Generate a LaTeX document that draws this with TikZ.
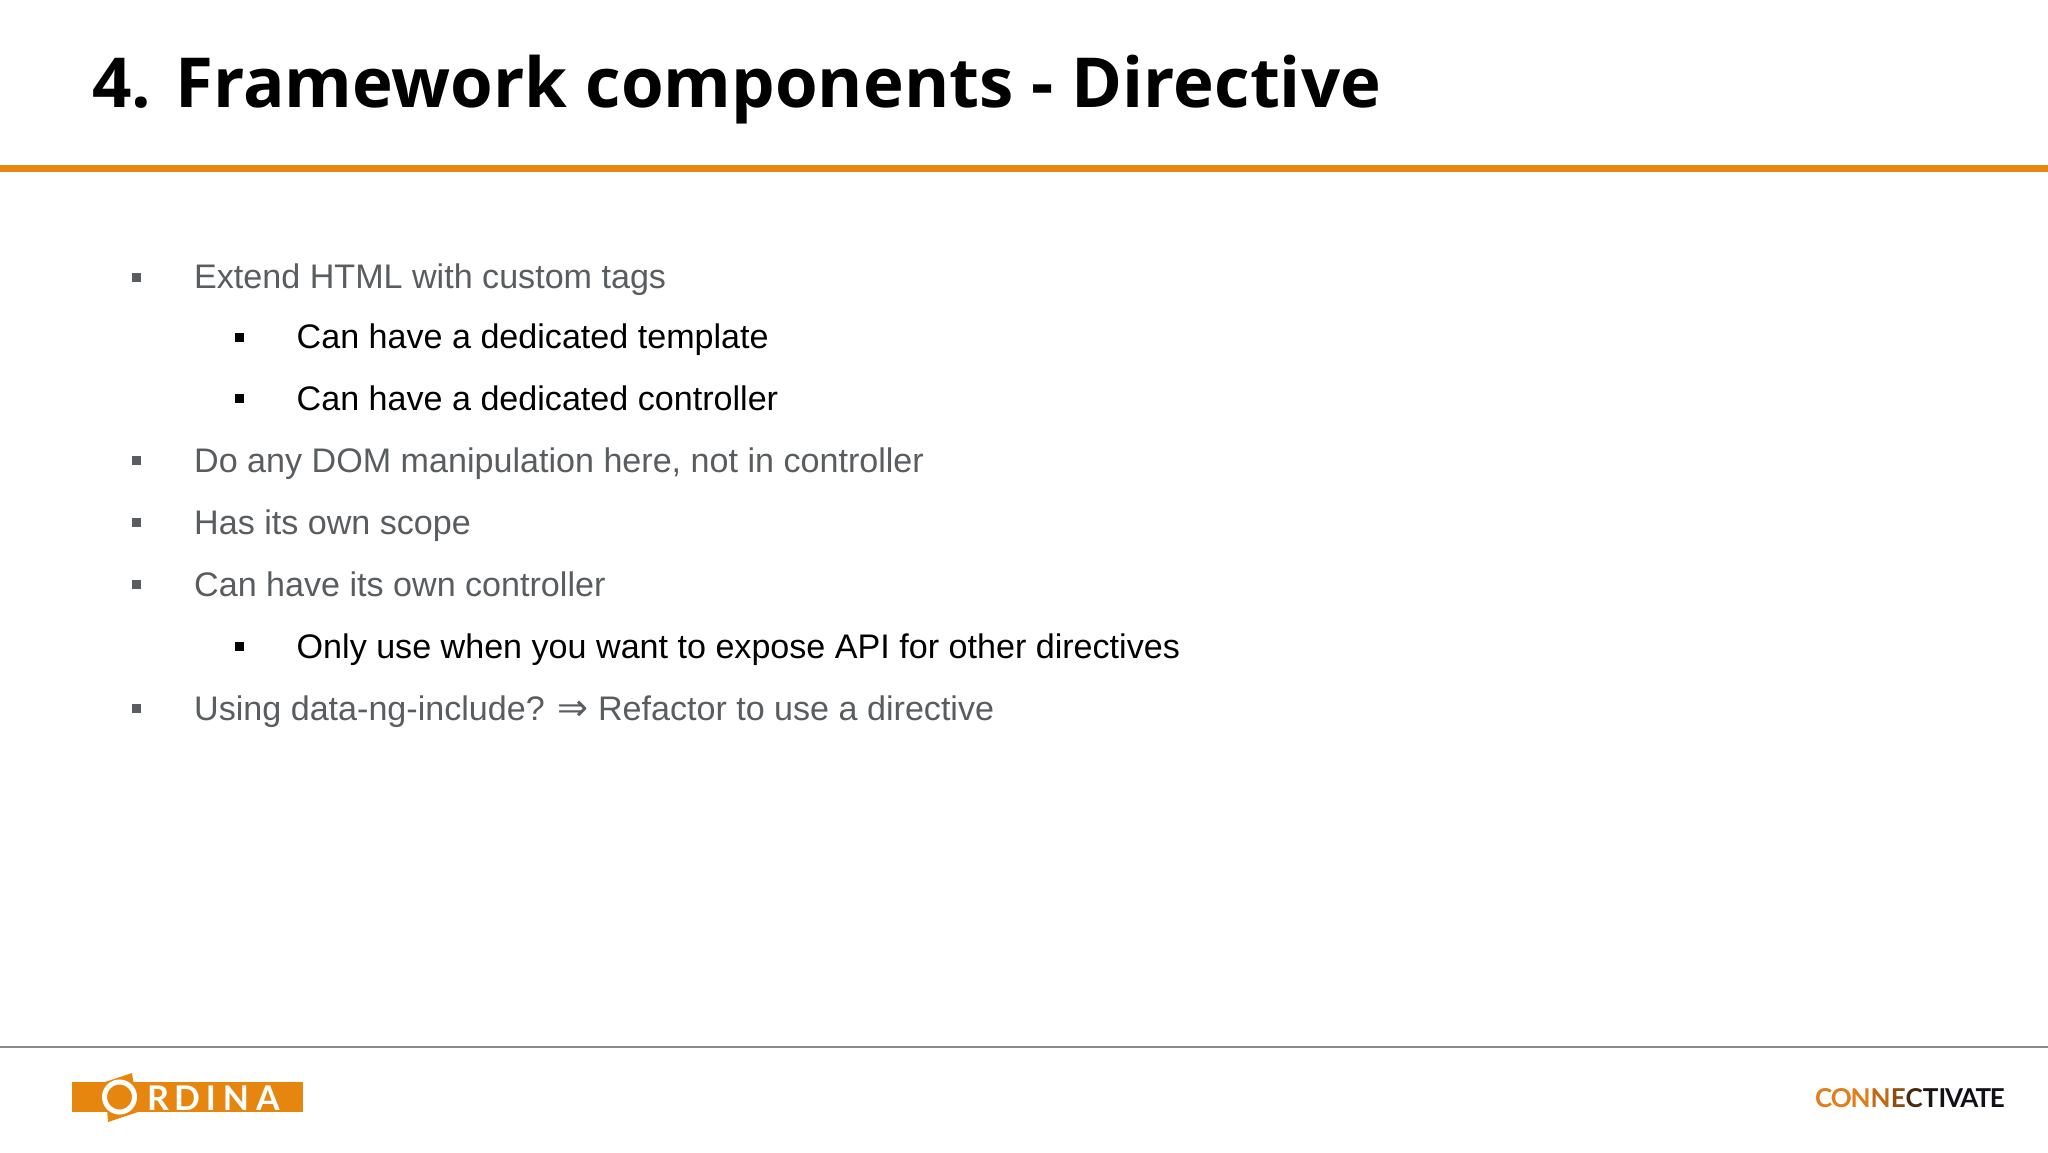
\documentclass[tikz,border=0pt]{standalone}
\usepackage{fontspec}
\setmainfont{Liberation Sans}
\newfontfamily\titlefont{Open Sans}
\newfontfamily\logofont{Lato}
\newfontfamily\connfont[LetterSpace=-4.5]{Lato}
\newfontfamily\arrowfont{DejaVu Sans}
\definecolor{ordorange}{HTML}{E6860E}
\definecolor{bodygray}{HTML}{595D60}
\definecolor{rulegray}{HTML}{8A8A8A}
\tikzset{
  x=1pt,y=-1pt,
  titletext/.style={anchor=base west,inner sep=0pt,font=\titlefont\bfseries\fontsize{69}{72}\selectfont,text=black},
  lvlone/.style={anchor=base west,inner sep=0pt,font=\fontsize{34.1}{40}\selectfont,text=bodygray},
  lvltwo/.style={anchor=base west,inner sep=0pt,font=\fontsize{34.1}{40}\selectfont,text=black},
  bulone/.style={fill=bodygray,draw=none,minimum size=9pt,inner sep=0pt,anchor=center},
  bultwo/.style={fill=black,draw=none,minimum size=9pt,inner sep=0pt,anchor=center},
  logoletter/.style={anchor=base,inner sep=0pt,text=white,font=\logofont\bfseries\fontsize{34}{34}\selectfont},
}
\begin{document}
\begin{tikzpicture}
\useasboundingbox (0,0) rectangle (2048,1152);
\fill[white] (0,0) rectangle (2048,1152);
\node[titletext] (title) at (92,107) {4. Framework components - Directive};
\fill[ordorange] (0,165) rectangle (2048,172);
\node[bulone] (b1) at (136.5,277) {}; \node[lvlone] (t1) at (194,288) {Extend HTML with custom tags};
\node[bultwo] (b2) at (239.5,337.5) {}; \node[lvltwo] (t2) at (296.5,348) {Can have a dedicated template};
\node[bultwo] (b3) at (239.5,398.5) {}; \node[lvltwo] (t3) at (296.5,410) {Can have a dedicated controller};
\node[bulone] (b4) at (136.5,460.5) {}; \node[lvlone] (t4) at (194,472) {Do any DOM manipulation here, not in controller};
\node[bulone] (b5) at (136.5,522.5) {}; \node[lvlone] (t5) at (194,534) {Has its own scope};
\node[bulone] (b6) at (136.5,584.5) {}; \node[lvlone] (t6) at (194,596) {Can have its own controller};
\node[bultwo] (b7) at (239.5,646.5) {}; \node[lvltwo] (t7) at (296.5,658) {Only use when you want to expose API for other directives};
\node[bulone] (b8) at (136.5,708.5) {}; \node[lvlone] (t8) at (194,720) {Using data-ng-include? {\arrowfont\fontsize{37}{40}\selectfont ⇒} Refactor to use a directive};
\draw[rulegray,line width=1.5pt] (0,1047) -- (2048,1047);
% Ordina logo
\fill[ordorange] (72,1082) rectangle (302.5,1112);
\fill[ordorange] (105,1082) -- (132,1073) -- (138,1112) -- (108,1122) -- cycle;
\draw[white,line width=5pt] (119.5,1097) circle (15);
\node[logoletter] (o1) at (158,1110) {R};
\node[logoletter] (o2) at (187,1110) {D};
\node[logoletter] (o3) at (211,1110) {I};
\node[logoletter] (o4) at (236,1110) {N};
\node[logoletter] (o5) at (268,1110) {A};
% Connectivate
\node[anchor=base west,inner sep=0pt,font=\connfont\bfseries\fontsize{26}{26}\selectfont] (conn) at (1815,1107)
 {\textcolor[HTML]{E07F1A}{CON}\textcolor[HTML]{C06A14}{N}\textcolor[HTML]{8E4E10}{E}\textcolor[HTML]{4A2A10}{C}\textcolor[HTML]{1A1414}{T}\textcolor[HTML]{101018}{IVATE}};
\end{tikzpicture}
\end{document}
